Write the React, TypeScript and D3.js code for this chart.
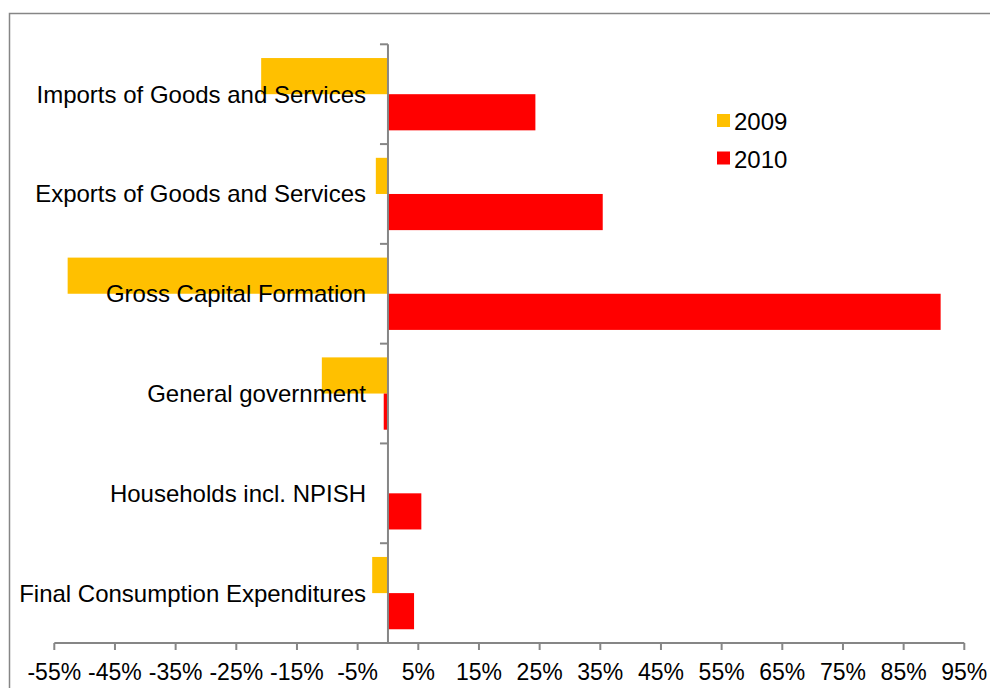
import React from "react";
import * as d3 from "d3";

const categories = [
  "Imports of Goods and Services",
  "Exports of Goods and Services",
  "Gross Capital Formation",
  "General government",
  "Households incl. NPISH",
  "Final Consumption Expenditures",
];
const series2009 = [-20.9, -2.0, -52.8, -10.9, 0, -2.6];
const series2010 = [24.3, 35.4, 91.1, -0.7, 5.5, 4.3];
const seriesNames = ["2009", "2010"];
const seriesColors = ["#FFC000", "#FF0000"];
const xTicks = [-55, -45, -35, -25, -15, -5, 5, 15, 25, 35, 45, 55, 65, 75, 85, 95];

const W = 990;
const H = 688;
const FONT = "'Liberation Sans', Arial, sans-serif";
const AXIS = "#868686";

export default function App() {
  const x = d3.scaleLinear().domain([-55, 95]).range([54.3, 964.3]);
  const y = d3.scaleBand<string>().domain(categories).range([44.3, 643]);
  const bw = y.bandwidth();
  const groupH = bw / 1.38;
  const barH = groupH / 2;
  const x0 = x(0);
  const axisY = 643;
  const allSeries = [series2009, series2010];

  return (
    <svg
      width={W}
      height={H}
      style={{ position: "absolute", left: 0, top: 0, background: "#fff" }}
      fontFamily={FONT}
    >
      <rect x={0} y={0} width={W} height={H} fill="#fff" />
      <rect x={9.5} y={13.5} width={W + 20} height={H + 20} fill="none" stroke={AXIS} strokeWidth={1.5} />

      {/* bars */}
      {allSeries.map((s, si) =>
        s.map((v, i) => {
          const c = categories[i];
          const top = (y(c) as number) + (bw - groupH) / 2 + si * barH;
          const xa = x(Math.min(0, v));
          const xb = x(Math.max(0, v));
          return (
            <rect
              key={`${si}-${i}`}
              x={xa}
              y={top}
              width={Math.max(0, xb - xa)}
              height={barH}
              fill={seriesColors[si]}
            />
          );
        })
      )}

      {/* category labels */}
      {categories.map((c) => (
        <text
          key={c}
          x={366}
          y={(y(c) as number) + bw / 2 + 8.5}
          textAnchor="end"
          fontSize={24}
          fill="#000"
        >
          {c}
        </text>
      ))}

      {/* y axis */}
      <line x1={x0} x2={x0} y1={y.range()[0]} y2={axisY} stroke={AXIS} strokeWidth={2} />
      {[...categories.map((c) => y(c) as number), axisY].map((t, i) => (
        <line key={i} x1={x0 - 8} x2={x0} y1={t} y2={t} stroke={AXIS} strokeWidth={2} />
      ))}

      {/* x axis */}
      <line x1={x(-55)} x2={x(95)} y1={axisY} y2={axisY} stroke={AXIS} strokeWidth={2} />
      {xTicks.map((t) => (
        <g key={t}>
          <line x1={x(t)} x2={x(t)} y1={axisY} y2={axisY + 7} stroke={AXIS} strokeWidth={2} />
          <text x={x(t)} y={680} textAnchor="middle" fontSize={23} fill="#000">
            {`${t}%`}
          </text>
        </g>
      ))}

      {/* legend */}
      {seriesNames.map((n, i) => (
        <g key={n} transform={`translate(717, ${114 + i * 37.5})`}>
          <rect x={0} y={0} width={13} height={13} fill={seriesColors[i]} />
          <text x={17} y={16} fontSize={24} fill="#000">
            {n}
          </text>
        </g>
      ))}
    </svg>
  );
}
